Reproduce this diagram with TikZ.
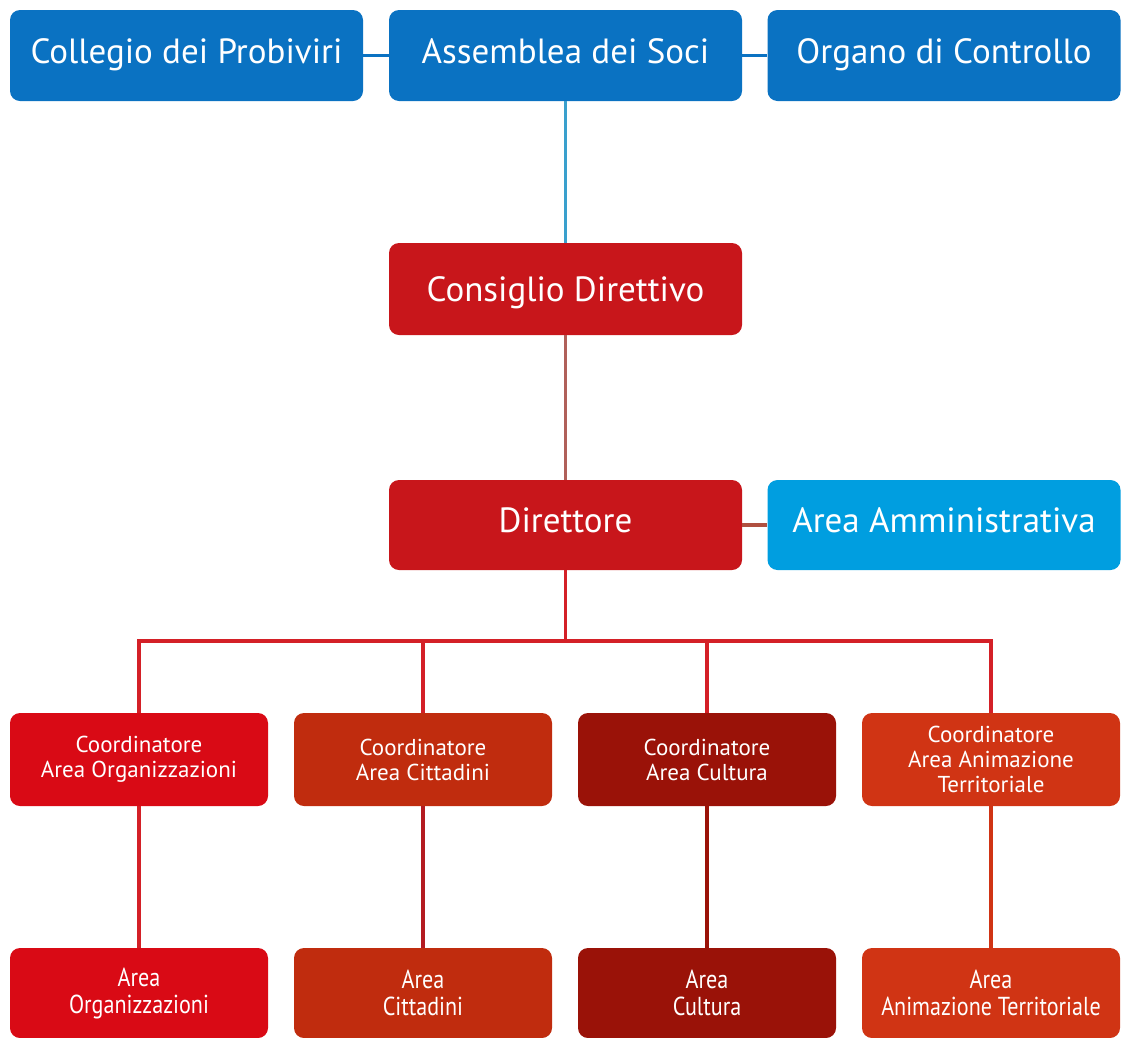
\documentclass[tikz,border=0pt]{standalone}
\usepackage{fontspec}
\setmainfont{PT Sans}
\newfontfamily\condfont[FakeStretch=0.85]{PT Sans}
\definecolor{topblue}{RGB}{10,114,194}
\definecolor{lightblue}{RGB}{0,158,224}
\definecolor{mainred}{RGB}{200,22,27}
\definecolor{redA}{RGB}{217,10,21}
\definecolor{redB}{RGB}{192,44,14}
\definecolor{redC}{RGB}{154,18,8}
\definecolor{redD}{RGB}{208,52,20}
\definecolor{lineblue}{RGB}{58,160,205}
\definecolor{linegrey}{RGB}{176,96,90}
\definecolor{linebrown}{RGB}{176,80,64}
\definecolor{linered}{RGB}{212,32,39}
\tikzset{
  box/.style={rectangle, rounded corners=10pt, text=white, align=center, inner sep=0pt},
  bigbox/.style={box, minimum width=353pt, minimum height=91pt, font=\fontsize{35}{40}\selectfont, text height=25pt, text depth=10pt},
  smallbox/.style={box, minimum width=258pt, minimum height=93pt, font=\fontsize{23}{25}\selectfont},
  areabox/.style={box, minimum width=258pt, minimum height=90pt, font=\condfont\fontsize{26}{27}\selectfont},
  conn/.style={line width=3.5pt},
}
\begin{document}
\begin{tikzpicture}[x=1pt,y=-1pt]
\useasboundingbox (0,0) rectangle (1122,1037);
% nodes
\node[bigbox, fill=topblue] (coll) at (186.5,55.5) {Collegio dei Probiviri};
\node[bigbox, fill=topblue] (ass) at (565.5,55.5) {Assemblea dei Soci};
\node[bigbox, fill=topblue] (org) at (944,55.5) {Organo di Controllo};
\node[bigbox, fill=mainred, minimum height=92pt, text height=30pt, text depth=5pt] (cons) at (565.5,289) {Consiglio Direttivo};
\node[bigbox, fill=mainred, minimum height=90pt] (dir) at (565.5,525) {Direttore};
\node[bigbox, fill=lightblue, minimum height=90pt] (amm) at (944,525) {Area Amministrativa};
\node[smallbox, fill=redA] (c1) at (139,759.5) {Coordinatore\\Area Organizzazioni};
\node[smallbox, fill=redB] (c2) at (423,759.5) {Coordinatore\\Area Cittadini};
\node[smallbox, fill=redC] (c3) at (707,759.5) {Coordinatore\\Area Cultura};
\node[smallbox, fill=redD] (c4) at (991,759.5) {Coordinatore\\Area Animazione\\Territoriale};
\node[areabox, fill=redA] (a1) at (139,993) {Area\\Organizzazioni};
\node[areabox, fill=redB] (a2) at (423,993) {Area\\Cittadini};
\node[areabox, fill=redC] (a3) at (707,993) {Area\\Cultura};
\node[areabox, fill=redD] (a4) at (991,993) {Area\\Animazione Territoriale};
% connectors
\draw[conn, topblue] (coll.east) -- (ass.west);
\draw[conn, topblue] (ass.east) -- (org.west);
\draw[conn, lineblue] (ass.south) -- (cons.north);
\draw[conn, linegrey] (cons.south) -- (dir.north);
\draw[conn, linebrown] (dir.east) -- (amm.west);
\coordinate (bar) at (565.5,641);
\draw[conn, linered] (dir.south) -- (bar);
\draw[conn, linered, line join=miter] (c1.north) |- (bar) -| (c4.north);
\draw[conn, linered] (c2.north) -- (c2.north |- bar);
\draw[conn, linered] (c3.north) -- (c3.north |- bar);
\draw[conn, linered] (c1.south) -- (a1.north);
\draw[conn, linered!85!black] (c2.south) -- (a2.north);
\draw[conn, redC] (c3.south) -- (a3.north);
\draw[conn, redD] (c4.south) -- (a4.north);
\end{tikzpicture}
\end{document}
